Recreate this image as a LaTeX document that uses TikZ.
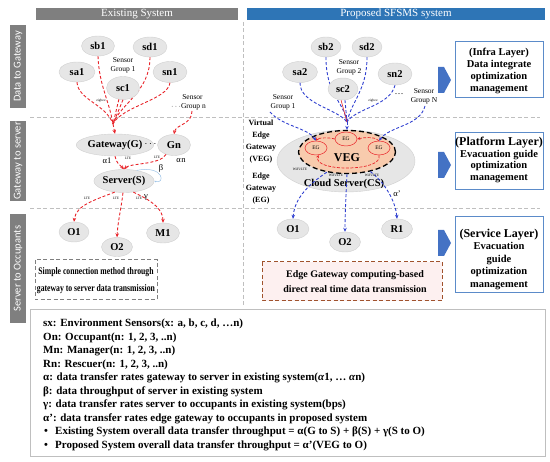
\documentclass[tikz,border=0pt]{standalone}
\usepackage{fontspec}
\setmainfont{Liberation Serif}
\newfontfamily\calib{Carlito}
\newfontfamily\condbf[FakeStretch=0.77]{Liberation Serif Bold}
\usetikzlibrary{shapes.geometric,arrows.meta}
\definecolor{hdrgray}{HTML}{7F7F7F}
\definecolor{hdrblue}{HTML}{2E75B6}
\definecolor{elgray}{HTML}{E6E6E6}
\definecolor{eledge}{HTML}{D0D0D0}
\definecolor{sepgray}{HTML}{BFBFBF}
\definecolor{edred}{HTML}{E8242A}
\definecolor{edblue}{HTML}{3040D0}
\definecolor{peach}{HTML}{F8CBAD}
\definecolor{arrblue}{HTML}{4472C4}
\definecolor{boxblue}{HTML}{5B8BC9}
\definecolor{brownb}{HTML}{A0522D}
\definecolor{pinkf}{HTML}{FDF0F0}
\definecolor{loopblue}{HTML}{9DC3E6}
\newcommand\fsz[2]{\fontsize{#1}{#2}\selectfont}
\begin{document}
\begin{tikzpicture}[x=1pt,y=-1pt,
  nd/.style={ellipse,fill=elgray,draw=eledge,line width=0.4pt,inner sep=0pt,font=\fsz{10.5}{11}\bfseries},
  sgtxt/.style={font=\fsz{7.5}{9},align=center,inner sep=0pt},
  tiny/.style={font=\fsz{3.5}{4},inner sep=0pt},
  lbl/.style={font=\fsz{8.5}{9},inner sep=0pt},
  redl/.style={draw=edred,line width=0.9pt,dash pattern=on 3pt off 2pt},
  reda/.style={redl,-{Stealth[length=4pt,width=3.5pt]}},
  bluel/.style={draw=edblue,line width=0.9pt,dash pattern=on 3pt off 2pt},
  bluea/.style={bluel,-{Stealth[length=4pt,width=3.5pt]}},
  sep/.style={draw=sepgray,line width=0.9pt,dash pattern=on 4pt off 2.5pt},
  layerbox/.style={draw=boxblue,line width=1pt,fill=white},
  legtxt/.style={anchor=west,inner sep=0pt,font=\fsz{11}{11}\bfseries},
  egn/.style={ellipse,fill=peach,draw=edred,line width=0.5pt,inner sep=0pt,minimum width=22pt,minimum height=14pt,font=\fsz{5.5}{6}}
]
\useasboundingbox (0,0) rectangle (550,462);
% headers
\fill[hdrgray] (36,8) rectangle (238,20);
\node[text=white,font=\fsz{11}{11}] (h1) at (137,14) {Existing System};
\fill[hdrblue] (247,8) rectangle (545,20);
\node[text=white,font=\fsz{11}{11}] (h2) at (396,14) {Proposed SFSMS system};
% side bars
\fill[hdrgray] (10,25) rectangle (26,108);
\node[text=white,rotate=90,font=\calib\fsz{10.5}{11}] (sb1lbl) at (18,66.5) {Data to Gateway};
\fill[hdrgray] (10,121) rectangle (26,201);
\node[text=white,rotate=90,font=\calib\fsz{10.5}{11}] (sb2lbl) at (18,161) {Gateway to server};
\fill[hdrgray] (10,214) rectangle (26,323);
\node[text=white,rotate=90,font=\calib\fsz{10.5}{11}] (sb3lbl) at (18,268.5) {Server to Occupants};
% separators
\draw[sep] (30,117) -- (540,117);
\draw[sep] (30,208) -- (540,208);
\draw[sep] (243,22) -- (243,306);

% ---------- left system ----------
\node[nd,minimum width=36pt,minimum height=20pt] (sa1) at (77,72) {sa1};
\node[nd,minimum width=33pt,minimum height=20pt] (sb1) at (98,46) {sb1};
\node[nd,minimum width=34pt,minimum height=20pt] (sd1) at (150,47) {sd1};
\node[nd,minimum width=34pt,minimum height=21pt] (sn1) at (170,72) {sn1};
\node[sgtxt] (sg1) at (123,65) {Sensor\\Group 1};
\node[sgtxt,anchor=west] (sgn) at (171,102) {\hspace*{8pt}Sensor\\$\cdots$Group n};
\coordinate (cv1) at (113,124);
\coordinate (gnS) at (192,111);
\draw[redl] (sa1.south) .. controls (78,100) and (106,104) .. (cv1);
\draw[redl] (sb1.south) .. controls (99,85) and (109,100) .. (cv1);
\draw[redl] (sd1.south) .. controls (150,92) and (120,104) .. (cv1);
\draw[redl] (sn1.south) .. controls (168,100) and (122,106) .. (cv1);
\node[nd,minimum width=33pt,minimum height=23pt] (sc1) at (123,88) {sc1};
\draw[redl] (sc1.south) -- (cv1);
\draw[redl] (sc1.-110) -- (cv1);
\node[tiny] (zb1) at (101,101) {zigbee};
\node[nd,minimum width=62pt,minimum height=22pt] (G) at (115,145) {Gateway(G)};
\node[nd,minimum width=33pt,minimum height=21pt] (Gn) at (174,145) {Gn};
\node[font=\fsz{10}{10}\bfseries,inner sep=0pt] (gdots) at (150.5,144) {$\cdots$};
\draw[reda] (cv1) -- (G.north);
\draw[reda] (gnS) .. controls (192,125) and (176,124) .. (Gn.north);
\node[nd,minimum width=54pt,minimum height=23pt] (S) at (124,181) {Server(S)};
\draw[reda] (G.south) .. controls (116,163) and (120,165) .. (S.north);
\draw[reda] (Gn.-130) .. controls (160,165) and (130,163) .. (S.north);
\node[lbl] (a1) at (107,161) {α1};
\node[lbl] (an) at (181,161) {α\hspace{0.3pt}n};
\node[tiny] (lte1) at (128,158) {LTE};
\node[tiny] (lte2) at (157,157) {LTE};
\node[lbl] (beta) at (161,168) {β};
\draw[loopblue,line width=0.5pt,-{Stealth[length=2pt]}] (S.40) .. controls (165,165) and (165,185) .. (S.east);
\node[nd,minimum width=30pt,minimum height=20pt] (O1) at (74,232) {O1};
\node[nd,minimum width=31pt,minimum height=19pt] (O2) at (117,247) {O2};
\node[nd,minimum width=33pt,minimum height=20pt] (M1) at (163,233) {M1};
\draw[reda] (S.-130) .. controls (95,200) and (76,205) .. (O1.north);
\draw[reda] (S.-95) .. controls (121,210) and (118,220) .. (O2.north);
\draw[reda] (S.-50) .. controls (150,200) and (163,208) .. (M1.north);
\node[tiny] (lte3) at (87,198) {LTE};
\node[tiny] (lte4) at (116,198) {LTE};
\node[tiny] (lte5) at (139,198) {LTE};
\node[lbl] (gam) at (146,197) {γ};
\draw[draw=hdrgray,line width=1pt,dash pattern=on 4pt off 2.5pt] (35,260) rectangle (157,300);
\node[font=\condbf\fsz{10}{16.5},align=center,inner sep=0pt] (lbox) at (96,280.5) {Simple connection method through\\gateway to server data transmission};

% ---------- right system ----------
\node[nd,minimum width=35pt,minimum height=21pt] (sa2) at (300,72) {sa2};
\node[nd,minimum width=30pt,minimum height=20pt] (sb2) at (326,47) {sb2};
\node[nd,minimum width=30pt,minimum height=20pt] (sd2) at (367,47) {sd2};
\node[nd,minimum width=34pt,minimum height=22pt] (sn2) at (395,74) {sn2};
\node[sgtxt] (sg2) at (349,67) {Sensor\\Group 2};
\node[sgtxt] (sgr1) at (283,102) {Sensor\\Group 1};
\node[sgtxt] (sgrN) at (424,96) {Sensor\\Group N};
\node[font=\fsz{9}{9},inner sep=0pt] (rdots) at (399,94) {…};
\coordinate (cv2) at (347,122);
\draw[bluel] (sa2.south) .. controls (300,104) and (336,108) .. (cv2);
\draw[bluel] (sb2.south) .. controls (326,95) and (343,100) .. (cv2);
\draw[bluel] (sd2.south) .. controls (367,90) and (352,100) .. (cv2);
\draw[bluel] (sn2.south) .. controls (390,106) and (356,108) .. (cv2);
\node[nd,minimum width=30pt,minimum height=22pt] (sc2) at (343,89) {sc2};
\draw[bluel] (sc2.-80) -- (cv2);
\draw[edred,line width=0.6pt] (sc2.-100) -- (cv2);
\node[tiny] (zb2) at (373,101) {zigbee};
\node[font=\fsz{8}{12}\bfseries,align=center,inner sep=0pt] (veglbl) at (261,142) {Virtual\\Edge\\Gateway\\(VEG)};
\node[font=\fsz{8}{12}\bfseries,align=center,inner sep=0pt] (eglbl) at (261,189) {Edge\\Gateway\\(EG)};
\node[ellipse,fill=elgray,draw=eledge,line width=0.4pt,minimum width=138pt,minimum height=62pt,inner sep=0pt] (CS) at (346,161) {};
\node[ellipse,fill=peach,draw=black,line width=1.3pt,dash pattern=on 5pt off 3pt,minimum width=97pt,minimum height=43pt,inner sep=0pt] (VEG) at (347,152) {};
\node[egn] (EGt) at (346,139) {EG};
\node[egn] (EGl) at (316,148) {EG};
\node[egn] (EGr) at (379,148) {EG};
\node[font=\fsz{12}{12}\bfseries,inner sep=0pt] (vegt) at (347,158) {VEG};
\node[font=\fsz{10.5}{11}\bfseries,inner sep=0pt] (cst) at (344,183.5) {Cloud Server(CS)};
\tikzset{redin/.style={draw=edred,line width=0.7pt,dash pattern=on 3pt off 1.5pt,-{Stealth[length=3pt,width=3pt]}}}
\draw[redin] (EGt.west) .. controls (328,137) and (318,138) .. (EGl.north);
\draw[redin] (EGr.north) .. controls (376,137) and (366,137) .. (EGt.east);
\draw[redin] (EGr.south) .. controls (384,172) and (312,172) .. (EGl.-70);
\draw[bluea] (cv2) -- (VEG.north);
\coordinate (g1s) at (270,112);
\coordinate (gNs) at (425,106);
\draw[bluea] (g1s) .. controls (282,126) and (308,128) .. (EGl.north);
\draw[bluea] (gNs) .. controls (420,126) and (390,126) .. (EGr.north);
\node[nd,minimum width=32pt,minimum height=20pt] (O1r) at (293,229) {O1};
\node[nd,minimum width=31pt,minimum height=20pt] (O2r) at (345,242) {O2};
\node[nd,minimum width=31pt,minimum height=20pt] (R1) at (397,229) {R1};
\draw[bluea] (VEG.225) .. controls (300,190) and (294,205) .. (O1r.north);
\draw[bluea] (VEG.south) .. controls (346,195) and (345,215) .. (O2r.north);
\draw[bluea] (VEG.-40) .. controls (388,185) and (396,205) .. (R1.north);
\node[tiny] (wl1) at (300,169) {WiFi/LTE};
\node[tiny] (wl2) at (336,175) {WiFi/LTE};
\node[tiny] (wl3) at (372,175) {WiFi/LTE};
\node[lbl] (ap) at (397,194) {α’};
\draw[draw=brownb,fill=pinkf,line width=1pt,dash pattern=on 4pt off 2.5pt] (262,262) rectangle (442,301);
\node[font=\fsz{10}{15}\bfseries,align=center,inner sep=0pt] (rbox) at (355,282) {Edge Gateway computing-based\\direct real time data transmission};

% big arrows
\fill[arrblue] (438,67) -- (444,67) -- (451,80) -- (444,93) -- (438,93) -- cycle;
\fill[arrblue] (438,152) -- (444,152) -- (451,165) -- (444,178) -- (438,178) -- cycle;
\fill[arrblue] (438,230) -- (444,230) -- (451,243) -- (444,256) -- (438,256) -- cycle;
% layer boxes
\draw[layerbox] (455,42) rectangle (543,98);
\node[font=\fsz{10.5}{12}\bfseries,align=center,inner sep=0pt] (infra) at (499,71) {(Infra Layer)\\Data integrate\\optimization\\management};
\draw[layerbox] (455,133) rectangle (543,190);
\node[font=\fsz{10.5}{11.7}\bfseries,align=center,inner sep=0pt] (plat) at (499,160) {{\fsz{12}{11.7}(Platform Layer)}\\Evacuation guide\\optimization\\management};
\draw[layerbox] (455,217) rectangle (543,293);
\node[font=\fsz{10.5}{12.5}\bfseries,align=center,inner sep=0pt] (serv) at (499,259) {{\fsz{12}{12.5}(Service Layer)}\\Evacuation\\guide\\optimization\\management};

% legend
\draw[draw=sepgray,line width=1pt] (30,310) rectangle (545,457);
\node[legtxt] (l1) at (43,324) {sx: Environment Sensors(x: a, b, c, d, …n)};
\node[legtxt] (l2) at (43,337.5) {On: Occupant(n: 1, 2, 3, ..n)};
\node[legtxt] (l3) at (43,351) {Mn: Manager(n: 1, 2, 3, ..n)};
\node[legtxt] (l4) at (43,364.5) {Rn: Rescuer(n: 1, 2, 3, ..n)};
\node[legtxt] (l5) at (43,378) {α: data transfer rates gateway to server in existing system(\textit{α}1, … \textit{α}n)};
\node[legtxt] (l6) at (43,391.5) {β: data throughput of server in existing system};
\node[legtxt] (l7) at (43,405) {γ: data transfer rates server to occupants in existing system(bps)};
\node[legtxt] (l8) at (43,418.5) {α': data transfer rates edge gateway to occupants in proposed system};
\node[legtxt] (b1) at (44,432) {•};
\node[legtxt] (l9) at (55,432) {Existing System overall data transfer throughput = α(G to S) + β(S) + γ(S to O)};
\node[legtxt] (b2) at (44,445.5) {•};
\node[legtxt] (l10) at (55,445.5) {Proposed System overall data transfer throughput = α’(VEG to O)};
\end{tikzpicture}
\end{document}
